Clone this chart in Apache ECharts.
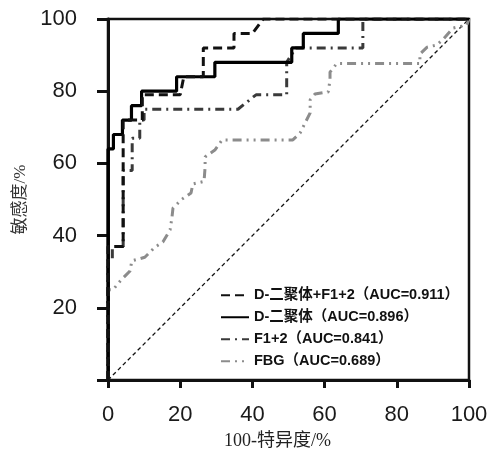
<!DOCTYPE html>
<html>
<head>
<meta charset="utf-8">
<script src="https://cdn.jsdelivr.net/npm/echarts@6/dist/echarts.min.js"></script>
<style>
html,body{margin:0;padding:0;background:#fff;}
#chart{width:499px;height:455px;}
</style>
</head>
<body>
<div id="chart"></div>
<script>
// ---- data (x = 100 - specificity %, y = sensitivity %) ----
const seriesNames = ['D-二聚体+F1+2（AUC=0.911）', 'D-二聚体（AUC=0.896）', 'F1+2（AUC=0.841）', 'FBG（AUC=0.689）'];
const xTicks = [0, 20, 40, 60, 80, 100];
const yTicks = [0, 20, 40, 60, 80, 100];

const combinedPoints = [[0,0],[0,37],[4.2,37],[4.2,66],[4.2,72],[9.5,72],[9.5,79],[20,79],[21,84],[26.4,84],[26.4,92],[34.9,92],[34.9,96],[40,96],[43,100],[100,100]];
const dimerPoints = [[0,0],[0,64],[1.5,64],[1.5,68],[4,68],[4,72],[6.5,72],[6.5,76],[9.3,76],[9.3,80],[19,80],[19,84],[29.6,84],[29.6,88],[50.9,88],[50.9,92],[54.1,92],[54.1,96],[63.8,96],[63.8,100],[100,100]];
const f12Points = [[0,0],[0,33],[1.2,33],[1.2,37],[4.2,37],[4.2,58],[6.7,58],[6.7,67],[8.8,67],[8.8,72],[10,72],[10,75],[36,75],[41,79],[49.5,79],[49.5,88],[52,92],[70.6,92],[70.6,100],[100,100]];
const fbgPoints = [[0,0],[0,25],[1.4,25],[3.6,27.7],[6.1,30.2],[6.6,33],[10.2,34],[13,36.8],[15.2,38.2],[17.2,41.6],[17.7,44.9],[18,47.6],[20.5,50.1],[23,51.8],[23.5,54.3],[26.6,55],[26.9,59],[26.9,61.8],[29.6,63.7],[31.6,66.5],[51.2,66.5],[53.2,68.4],[54.6,71.2],[56,74],[56,77.6],[57.3,79.2],[61,79.8],[61.5,83.1],[61.5,85.3],[63.4,87.7],[86.4,87.7],[86.4,90.3],[88.4,92.2],[91.1,92.8],[93.1,94.7],[95.6,97.5],[99.4,98.3],[100,100]];
const referencePoints = [[0,0],[100,100]];

const chart = echarts.init(document.getElementById('chart'), null, {renderer: 'canvas'});
const labelFont = "'Liberation Sans', Arial, sans-serif";
const cjkSerif = "'Liberation Serif', 'DejaVu Serif', 'Noto Sans CJK SC', serif";

chart.setOption({
  animation: false,
  backgroundColor: '#fff',
  grid: {left: 108, right: 30, top: 19, bottom: 75, show: true, borderColor: '#111', borderWidth: 2.5, backgroundColor: 'transparent'},
  xAxis: {
    type: 'value', min: xTicks[0], max: xTicks[xTicks.length - 1], interval: 20,
    name: '100-特异度/%', nameLocation: 'middle', nameGap: 52,
    nameTextStyle: {fontSize: 18, color: '#222', fontFamily: cjkSerif, padding: [0, 22, 0, 0]},
    axisLine: {show: true, lineStyle: {color: '#111', width: 3}},
    axisTick: {show: true, length: 8, lineStyle: {color: '#111', width: 3}},
    axisLabel: {fontSize: 22, color: '#1a1a1a', fontFamily: labelFont, margin: 24},
    splitLine: {show: false}
  },
  yAxis: {
    type: 'value', min: yTicks[0], max: yTicks[yTicks.length - 1], interval: 20,
    name: '敏感度/%', nameLocation: 'middle', nameGap: 75,
    nameTextStyle: {fontSize: 17, color: '#333', fontFamily: cjkSerif},
    axisLine: {show: true, lineStyle: {color: '#111', width: 3}},
    axisTick: {show: true, length: 11, lineStyle: {color: '#111', width: 3}},
    axisLabel: {fontSize: 22, color: '#1a1a1a', fontFamily: labelFont, margin: 31,
      formatter: v => (v === 0 ? '' : String(v))},
    splitLine: {show: false}
  },
  legend: {
    orient: 'vertical', left: 215, top: 283, itemWidth: 28, itemHeight: 14, itemGap: 7.5,
    data: seriesNames,
    itemStyle: {opacity: 0},
    textStyle: {fontSize: 14.5, fontWeight: 'bold', color: '#111', fontFamily: "'Liberation Sans', 'Noto Sans CJK SC', sans-serif"}
  },
  series: [
    {type: 'line', name: 'ref', data: referencePoints, symbol: 'none', silent: true, z: 1,
      lineStyle: {color: '#111', width: 1.3, type: [4, 3]}},
    {type: 'line', name: seriesNames[3], data: fbgPoints, symbol: 'none', z: 2,
      itemStyle: {color: '#8c8c8c'},
      lineStyle: {color: '#8c8c8c', width: 3, type: [9, 5, 2, 5, 2, 5]}},
    {type: 'line', name: seriesNames[2], data: f12Points, symbol: 'none', z: 3,
      itemStyle: {color: '#3a3a3a'},
      lineStyle: {color: '#3a3a3a', width: 3, type: [9, 5, 2, 5]}},
    {type: 'line', name: seriesNames[1], data: dimerPoints, symbol: 'none', z: 4,
      itemStyle: {color: '#000'},
      lineStyle: {color: '#000', width: 3.2, type: 'solid'}},
    {type: 'line', name: seriesNames[0], data: combinedPoints, symbol: 'none', z: 5,
      itemStyle: {color: '#111'},
      lineStyle: {color: '#111', width: 3, type: [9, 5]}}
  ]
});
</script>
</body>
</html>
